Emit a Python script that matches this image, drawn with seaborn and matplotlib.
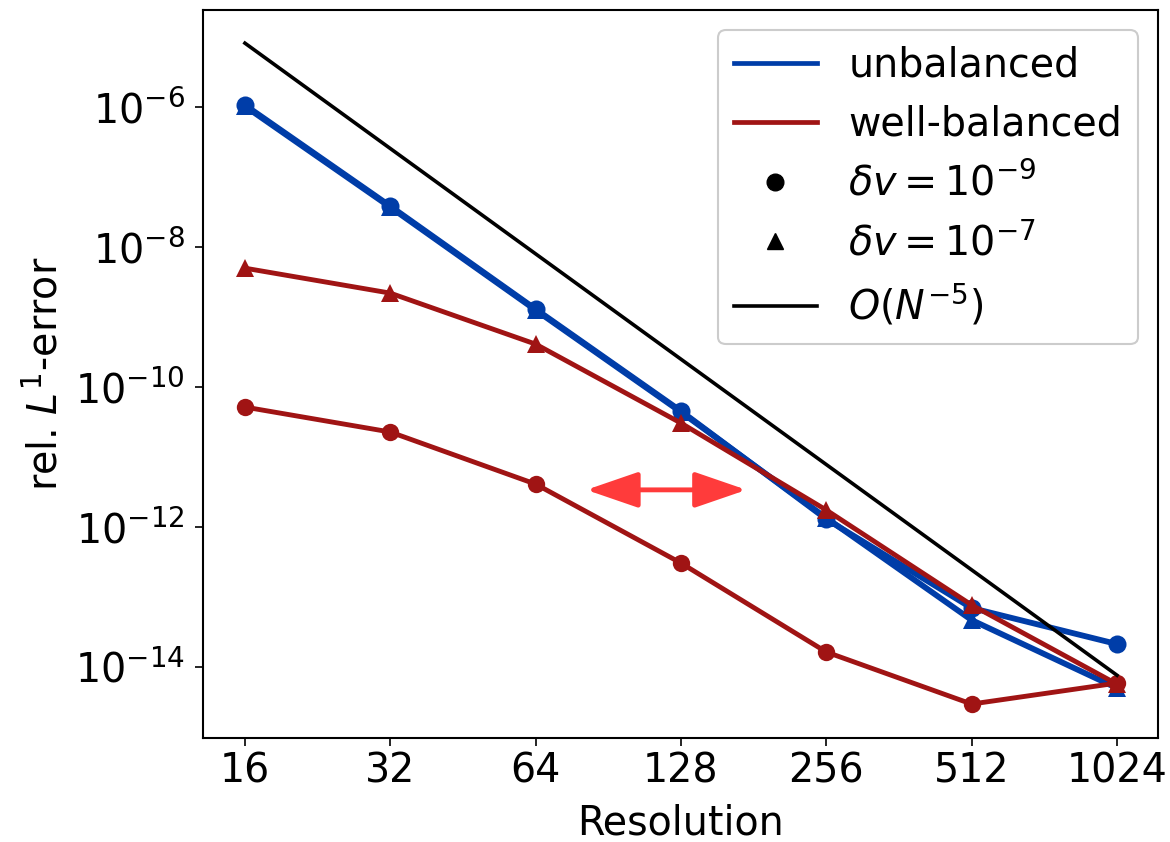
import numpy as np
import pandas as pd
import matplotlib
matplotlib.use("Agg")
import matplotlib.pyplot as plt
from matplotlib.lines import Line2D
from matplotlib.ticker import FixedLocator, FixedFormatter, NullLocator, LogFormatterSciNotation
import seaborn as sns

# Grid resolutions
resolution = [16, 32, 64, 128, 256, 512, 1024]

# Relative L1 errors
unbalanced_dv9 = [1.07e-6, 3.85e-8, 1.30e-9, 4.54e-11, 1.30e-12, 6.97e-14, 2.13e-14]
unbalanced_dv7 = [1.03e-6, 3.72e-8, 1.26e-9, 4.40e-11, 1.35e-12, 4.69e-14, 5.0e-15]
wellbal_dv9 = [5.18e-11, 2.28e-11, 4.11e-12, 3.06e-13, 1.64e-14, 2.96e-15, 5.9e-15]
wellbal_dv7 = [5.0e-9, 2.2e-9, 4.11e-10, 3.06e-11, 1.75e-12, 7.7e-14, 5.7e-15]

# Reference slope N^-5
ref_const = 8.6
ref_order = 5

BLUE = "#003da8"
RED = "#a01414"
ARROW = "#ff3b3b"
FS = 28.5

plt.rcParams["font.family"] = ["DejaVu Sans"]
plt.rcParams["mathtext.fontset"] = "dejavusans"
plt.rcParams["font.size"] = FS

fig = plt.figure(figsize=(11.7, 8.42), dpi=100)
ax = fig.add_axes([0.1735, 0.1235, 0.8162, 0.8645])

series = [
    (unbalanced_dv9, BLUE, "o", 4.2, 13),
    (unbalanced_dv7, BLUE, "^", 4.2, 13),
    (wellbal_dv7, RED, "^", 3.5, 12.5),
    (wellbal_dv9, RED, "o", 3.5, 12.5),
]
for vals, col, mk, lw, ms in series:
    df = pd.DataFrame({"N": resolution, "err": vals})
    sns.lineplot(data=df, x="N", y="err", ax=ax, color=col, marker=mk,
                 linewidth=lw, markersize=ms, markeredgewidth=0, legend=False)

n_ref = np.array(resolution, dtype=float)
ref_df = pd.DataFrame({"N": n_ref, "err": ref_const * n_ref ** (-ref_order)})
sns.lineplot(data=ref_df, x="N", y="err", ax=ax, color="black", linewidth=2.6,
             legend=False)

ax.set_xscale("log")
ax.set_yscale("log")
ax.set_xlim(13.1, 1245)
ax.set_ylim(10 ** -15.014, 10 ** -4.614)

ax.xaxis.set_major_locator(FixedLocator(resolution))
ax.xaxis.set_major_formatter(FixedFormatter([str(r) for r in resolution]))
ax.xaxis.set_minor_locator(NullLocator())
ax.yaxis.set_major_locator(FixedLocator([1e-14, 1e-12, 1e-10, 1e-8, 1e-6]))
ax.yaxis.set_major_formatter(LogFormatterSciNotation())
ax.yaxis.set_minor_locator(NullLocator())
ax.tick_params(axis="both", which="major", length=6, width=1.2, labelsize=FS)
ax.tick_params(axis="y", pad=7)
for sp in ax.spines.values():
    sp.set_linewidth(1.5)

ax.set_xlabel("Resolution", fontsize=FS, labelpad=9)
ax.set_ylabel(r"rel. $L^1$-error", fontsize=FS, labelpad=6)

# Double-headed arrow between the two regimes
ax.annotate("", xy=(175, 3.4e-12), xytext=(81.5, 3.4e-12),
            arrowprops=dict(arrowstyle="<|-|>,head_length=1.6,head_width=0.55",
                            mutation_scale=20, color=ARROW, lw=3.5,
                            shrinkA=0, shrinkB=0))

handles = [
    Line2D([], [], color=BLUE, lw=3.4),
    Line2D([], [], color=RED, lw=3.4),
    Line2D([], [], color="black", marker="o", ls="none", markersize=12),
    Line2D([], [], color="black", marker="^", ls="none", markersize=12),
    Line2D([], [], color="black", lw=2.6),
]
labels = ["unbalanced", "well-balanced", r"$\delta v = 10^{-9}$",
          r"$\delta v = 10^{-7}$", r"$O(N^{-5})$"]
leg = ax.legend(handles, labels, loc="upper right", fontsize=FS,
                handlelength=2.1, borderaxespad=0.5, labelspacing=0.48,
                handletextpad=0.8, framealpha=1, edgecolor="#cccccc")
leg.get_frame().set_linewidth(1.5)

fig.savefig("out.png", dpi=100, facecolor="white")
